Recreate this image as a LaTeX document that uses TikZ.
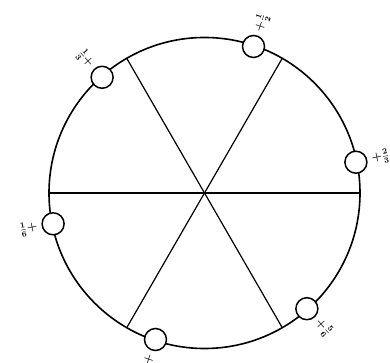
\documentclass[tikz,border=0pt]{standalone}
\usetikzlibrary{calc}
\begin{document}
\begin{tikzpicture}[x=1pt,y=1pt,
  rim/.style={line width=1.6pt},
  spoke/.style={line width=1.2pt},
  ball/.style={circle,draw,line width=1.5pt,fill=white,minimum size=22pt,inner sep=0pt},
  lab/.style={inner sep=0pt,font=\large\boldmath}]
\useasboundingbox (0,0) rectangle (390,363);
\coordinate (O) at (204.5,170);
\foreach \a in {0,60,...,300}{
  \coordinate (s\a) at ($(O)+(\a:155.5)$);
}
\draw[spoke] (s0) -- (s180);
\draw[spoke] (s60) -- (s240);
\draw[spoke] (s120) -- (s300);
\draw[rim] (O) circle[radius=155.5];
% balls
\node[ball] (b0) at ($(O)+(11.5:154.5)$) {};
\node[ball] (b1) at ($(O)+(71.5:154.5)$) {};
\node[ball] (b2) at ($(O)+(131.5:154.5)$) {};
\node[ball] (b3) at ($(O)+(191.5:154.5)$) {};
\node[ball] (b4) at ($(O)+(251.5:154.5)$) {};
\node[ball] (b5) at ($(O)+(311.5:154.5)$) {};
% labels
\node[lab,rotate=11.5,anchor=west] (l0) at ($(b0)+(11.5:16)$) {$+\frac{2}{3}$};
\node[lab,rotate=71.5,anchor=west] (l1) at ($(b1)+(71.5:16)$) {$+\frac{1}{2}$};
\node[lab,rotate=-48.5,anchor=east] (l2) at ($(b2)+(131.5:16)$) {$\frac{1}{3}+$};
\node[lab,rotate=11.5,anchor=east] (l3) at ($(b3)+(191.5:16)$) {$\frac{1}{6}+$};
\node[lab,rotate=71.5,anchor=east] (l4) at ($(b4)+(251.5:16)$) {$+$};
\node[lab,rotate=-48.5,anchor=west] (l5) at ($(b5)+(311.5:16)$) {$+\frac{5}{6}$};
\end{tikzpicture}
\end{document}
